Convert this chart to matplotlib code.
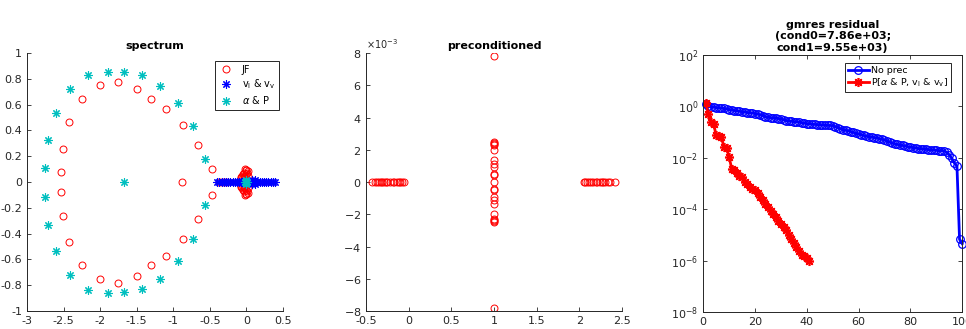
import numpy as np
import matplotlib.pyplot as plt
from matplotlib.ticker import ScalarFormatter

plt.rcParams['font.family'] = 'DejaVu Sans'
plt.rcParams['axes.unicode_minus'] = False

# ---- spectrum (left) ----
jf_re = [-2.0, -1.75, -2.25, -2.42, -2.51, -2.54, -2.54, -2.51, -2.42, -2.25, -2.0, -1.75,
         -1.49, -1.30, -1.10, -0.87, -0.66, -0.47, -0.88, -0.47, -0.66, -0.87, -1.10, -1.30, -1.49,
         -0.37, -0.33, -0.28,
         -0.02, 0.0, 0.01, -0.04, -0.06, -0.02, 0.02, -0.08, -0.03, -0.01, 0.02, -0.05, 0.0, -0.07, -0.04,
         -0.02, 0.0, 0.01, -0.04, -0.06, -0.02, 0.02, -0.08, -0.03, -0.01, 0.02, -0.05, 0.0, -0.07, -0.04]
jf_im = [0.755, 0.775, 0.645, 0.465, 0.26, 0.08, -0.08, -0.26, -0.465, -0.645, -0.755, -0.78,
         0.725, 0.64, 0.57, 0.44, 0.285, 0.10, 0.0, -0.10, -0.285, -0.44, -0.57, -0.64, -0.725,
         0.0, 0.0, 0.0,
         0.10, 0.09, 0.07, 0.07, 0.05, 0.05, 0.05, 0.03, 0.03, 0.095, 0.085, 0.06, 0.06, 0.04, 0.04,
         -0.10, -0.09, -0.07, -0.07, -0.05, -0.05, -0.05, -0.03, -0.03, -0.095, -0.085, -0.06, -0.06, -0.04, -0.04]

vel_re = [-0.40, -0.37, -0.34, -0.31, -0.28, -0.25, -0.22, -0.19, -0.16, -0.13, -0.10, -0.08,
          -0.06, -0.04, -0.02, 0.05, 0.06, 0.07, 0.08, 0.09, 0.10, 0.11, 0.13, 0.15, 0.18,
          0.21, 0.24, 0.27, 0.30, 0.33, 0.36, 0.39, 0.08, 0.08, 0.11, 0.11]
vel_im = [0.0] * 32 + [0.015, -0.015, 0.012, -0.012]

ap_re = [-1.90, -1.68, -2.16, -1.43, -2.41, -1.18, -2.60, -0.94, -2.71, -0.73, -2.76, -0.57,
         -1.90, -1.68, -2.16, -1.43, -2.41, -1.18, -2.60, -0.94, -2.71, -0.73, -2.76, -0.57,
         -1.67, -0.02, -0.01, 0.0, 0.01, 0.0, 0.0]
ap_im = [0.855, 0.85, 0.83, 0.83, 0.72, 0.745, 0.535, 0.615, 0.325, 0.435, 0.11, 0.175,
         -0.86, -0.855, -0.835, -0.83, -0.72, -0.75, -0.535, -0.615, -0.33, -0.44, -0.115, -0.175,
         0.0, 0.0, 0.0, 0.0, 0.0, 0.012, -0.012]

# ---- preconditioned (middle) ----
pre_left_re = [-0.43, -0.40, -0.37, -0.35, -0.33, -0.31, -0.29, -0.27, -0.25, -0.22, -0.19,
               -0.17, -0.14, -0.12, -0.10, -0.08, -0.06]
pre_mid_im = [7.8e-3, 2.49e-3, 2.42e-3, 2.35e-3, 2.29e-3, 1.97e-3, 1.39e-3, 1.10e-3,
              0.95e-3, 0.52e-3, 0.45e-3, 0.0, -0.45e-3, -0.52e-3, -0.95e-3, -1.10e-3,
              -1.39e-3, -1.97e-3, -2.29e-3, -2.35e-3, -2.42e-3, -2.49e-3, -7.8e-3]
pre_right_re = [2.05, 2.07, 2.09, 2.11, 2.13, 2.16, 2.19, 2.21, 2.24, 2.26, 2.28, 2.30,
                2.33, 2.36, 2.42]
pre_re = pre_left_re + [1.0] * len(pre_mid_im) + pre_right_re
pre_im = [0.0] * len(pre_left_re) + pre_mid_im + [0.0] * len(pre_right_re)

# ---- gmres residual (right), log10 of residual per iteration ----
noprec_log = [0.10, 0.02, -0.02, -0.03, -0.05, -0.06, -0.07, -0.08, -0.10, -0.12,
              -0.14, -0.16, -0.17, -0.19, -0.21, -0.22, -0.24, -0.25, -0.26, -0.28,
              -0.30, -0.33, -0.36, -0.40, -0.42, -0.44, -0.45, -0.46, -0.47, -0.49,
              -0.52, -0.55, -0.57, -0.58, -0.59, -0.60, -0.61, -0.63, -0.65, -0.67,
              -0.68, -0.69, -0.70, -0.71, -0.72, -0.73, -0.73, -0.74, -0.74, -0.75,
              -0.79, -0.83, -0.87, -0.90, -0.93, -0.95, -0.98, -1.01, -1.05, -1.08,
              -1.10, -1.13, -1.16, -1.18, -1.20, -1.21, -1.23, -1.26, -1.28, -1.31,
              -1.35, -1.39, -1.43, -1.46, -1.48, -1.50, -1.52, -1.54, -1.57, -1.59,
              -1.60, -1.62, -1.64, -1.65, -1.66, -1.67, -1.68, -1.69, -1.70, -1.71,
              -1.72, -1.72, -1.73, -1.78, -1.88, -2.02, -2.20, -2.32, -5.17, -5.34]
prec_log = [0.13, -0.29, -0.61, -0.68, -1.13, -1.16, -1.19, -1.58, -1.61, -1.97,
            -2.43, -2.49, -2.60, -2.69, -2.73, -2.95, -3.01, -3.12, -3.21, -3.27,
            -3.38, -3.51, -3.64, -3.79, -3.90, -4.08, -4.18, -4.29, -4.44, -4.57,
            -4.70, -4.81, -4.99, -5.16, -5.32, -5.48, -5.61, -5.77, -5.84, -5.90, -6.03]

it_noprec = np.arange(1, len(noprec_log) + 1)
it_prec = np.arange(1, len(prec_log) + 1)

axcol = (0.15, 0.15, 0.15)
ast = (8, 2, 0)  # matlab-like asterisk

fig = plt.figure(figsize=(9.66, 3.29), dpi=100)
ax1 = fig.add_axes([0.028, 0.0547, 0.265, 0.784])
ax2 = fig.add_axes([0.379, 0.0547, 0.265, 0.784])
ax3 = fig.add_axes([0.728, 0.0517, 0.268, 0.781])

for ax in (ax1, ax2, ax3):
    ax.tick_params(direction='in', length=3, labelsize=8, colors=axcol, width=0.6)
    for s in ax.spines.values():
        s.set_color(axcol)
        s.set_linewidth(0.7)

# spectrum
ax1.plot(jf_re, jf_im, 'o', color='r', mfc='none', ms=5, mew=0.7, label='JF')
ax1.plot(vel_re, vel_im, ls='none', marker=ast, color='b', ms=6, mew=0.8,
         label=r'v$_\mathregular{l}$ & v$_\mathregular{v}$')
ax1.plot(ap_re, ap_im, ls='none', marker=ast, color='c', ms=6, mew=0.8,
         label=r'$\alpha$ & P')
ax1.set_xlim(-3, 0.5)
ax1.set_ylim(-1, 1)
ax1.set_xticks(np.arange(-3, 0.51, 0.5))
ax1.set_xticklabels(['-3', '-2.5', '-2', '-1.5', '-1', '-0.5', '0', '0.5'])
ax1.set_yticks(np.arange(-1, 1.01, 0.2))
ax1.set_yticklabels(['-1', '-0.8', '-0.6', '-0.4', '-0.2', '0', '0.2', '0.4', '0.6', '0.8', '1'])
ax1.spines['top'].set_visible(False)
ax1.spines['right'].set_visible(False)
ax1.set_title('spectrum', fontsize=8, fontweight='bold', pad=3)
leg1 = ax1.legend(loc='upper right', bbox_to_anchor=(0.985, 0.97), borderaxespad=0,
                  fontsize=7, fancybox=False, edgecolor=axcol, framealpha=1,
                  handlelength=1.6, labelspacing=0.3, borderpad=0.4)
leg1.get_frame().set_linewidth(0.7)

# preconditioned
ax2.plot(pre_re, pre_im, 'o', color='r', mfc='none', ms=5, mew=0.7)
ax2.set_xlim(-0.5, 2.5)
ax2.set_ylim(-8e-3, 8e-3)
ax2.set_xticks([-0.5, 0, 0.5, 1, 1.5, 2, 2.5])
ax2.set_xticklabels(['-0.5', '0', '0.5', '1', '1.5', '2', '2.5'])
ax2.set_yticks(np.arange(-8e-3, 8.1e-3, 2e-3))
fmt = ScalarFormatter(useMathText=True)
fmt.set_powerlimits((-2, 2))
ax2.yaxis.set_major_formatter(fmt)
ax2.yaxis.get_offset_text().set_fontsize(7)
ax2.yaxis.get_offset_text().set_color(axcol)
ax2.spines['top'].set_visible(False)
ax2.spines['right'].set_visible(False)
ax2.set_title('preconditioned', fontsize=8, fontweight='bold', pad=3)

# gmres residual
ax3.semilogy(it_noprec, 10.0 ** np.array(noprec_log), '-o', color='b', mfc='none',
             ms=5.5, mew=0.9, lw=2, label='No prec', clip_on=False)
ax3.semilogy(it_prec, 10.0 ** np.array(prec_log), '-', marker=ast, color='r',
             ms=6.5, mew=1.2, lw=2, label=r'P[$\alpha$ & P, v$_\mathregular{l}$ & v$_\mathregular{v}$]')
ax3.set_xlim(0, 100)
ax3.set_ylim(1e-8, 1e2)
ax3.set_xticks([0, 20, 40, 60, 80, 100])
ax3.set_yticks([1e-8, 1e-6, 1e-4, 1e-2, 1e0, 1e2])
ax3.minorticks_off()
ax3.tick_params(top=True, right=True)
ax3.set_title('gmres residual\n(cond0=7.86e+03;\ncond1=9.55e+03)', fontsize=8,
              fontweight='bold', pad=3, linespacing=1.2)
leg3 = ax3.legend(loc='upper right', bbox_to_anchor=(0.958, 0.969), borderaxespad=0,
                  fontsize=6.8, fancybox=False, edgecolor=axcol, framealpha=1,
                  handlelength=2.2, labelspacing=0.2, borderpad=0.3, handletextpad=0.3)
leg3.get_frame().set_linewidth(0.7)

fig.savefig('out.png', dpi=100)
